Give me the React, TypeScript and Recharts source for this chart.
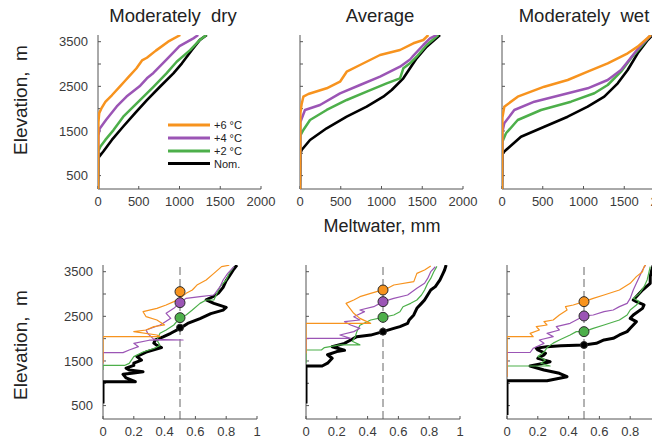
import React from "react";
import { ScatterChart, Scatter, XAxis, YAxis, ReferenceLine } from "recharts";

type Pt = [number, number]; // [x value, elevation m]

const FONT = "'Liberation Sans', Arial, sans-serif";
const ORANGE = "#f7931e";
const PURPLE = "#9b55b5";
const GREEN = "#4daf4a";
const BLACK = "#000000";

const TITLES = ["Moderately  dry", "Average", "Moderately  wet"];
const LEGEND_LABELS = ["+6 °C", "+4 °C", "+2 °C", "Nom."];
const LEGEND_COLORS = [ORANGE, PURPLE, GREEN, BLACK];

const ELEV_TICKS = [500, 1000, 1500, 2000, 2500, 3000, 3500];
const MELT_TICKS = [0, 500, 1000, 1500, 2000];
const FRAC_TICKS = [0, 0.2, 0.4, 0.6, 0.8, 1];

// top row: meltwater (mm) vs elevation
const dry6: Pt[] = [[0, 200], [5, 1700], [15, 1900], [40, 2000], [90, 2150], [170, 2300], [270, 2500], [330, 2620], [370, 2700], [470, 2900], [540, 3080], [600, 3140], [710, 3300], [860, 3500], [1010, 3650]];
const dry4: Pt[] = [[0, 200], [5, 1400], [20, 1550], [100, 1750], [230, 2050], [350, 2270], [510, 2500], [600, 2680], [680, 2800], [840, 3100], [1000, 3400], [1170, 3575], [1230, 3650]];
const dry2: Pt[] = [[0, 200], [5, 1050], [30, 1150], [90, 1300], [190, 1520], [310, 1820], [475, 2120], [680, 2490], [840, 2790], [965, 3050], [1130, 3310], [1250, 3540], [1330, 3650]];
const dryN: Pt[] = [[0, 200], [5, 900], [65, 1040], [170, 1300], [310, 1600], [455, 1900], [600, 2190], [760, 2490], [925, 2790], [1030, 3015], [1150, 3310], [1250, 3540], [1335, 3650]];

const avg6: Pt[] = [[0, 200], [5, 1900], [20, 2100], [41, 2268], [102, 2328], [327, 2456], [491, 2604], [573, 2828], [736, 2978], [982, 3202], [1227, 3314], [1391, 3464], [1513, 3538], [1575, 3650]];
const avg4: Pt[] = [[0, 200], [5, 1700], [61, 1970], [245, 2082], [491, 2344], [736, 2530], [982, 2716], [1227, 2940], [1350, 3100], [1380, 3164], [1513, 3426], [1595, 3576], [1677, 3650]];
const avg2: Pt[] = [[0, 200], [5, 1400], [41, 1522], [123, 1746], [327, 1970], [573, 2194], [818, 2380], [1063, 2568], [1227, 2680], [1268, 2904], [1350, 3016], [1431, 3164], [1554, 3426], [1697, 3650]];
const avgN: Pt[] = [[0, 200], [5, 1000], [20, 1074], [123, 1298], [327, 1560], [573, 1820], [818, 2044], [1022, 2268], [1125, 2418], [1268, 2680], [1431, 3128], [1554, 3389], [1718, 3650]];

const wet6: Pt[] = [[0, 200], [5, 1800], [28, 2044], [193, 2268], [519, 2492], [806, 2642], [1051, 2828], [1297, 3016], [1542, 3240], [1665, 3389], [1828, 3650]];
const wet4: Pt[] = [[0, 200], [5, 1480], [28, 1672], [151, 1970], [397, 2156], [724, 2306], [1051, 2456], [1297, 2642], [1460, 2866], [1542, 3052], [1624, 3240], [1727, 3464], [1828, 3650]];
const wet2: Pt[] = [[0, 200], [5, 1260], [49, 1448], [193, 1746], [479, 1970], [847, 2156], [1133, 2344], [1297, 2530], [1460, 2828], [1583, 3128], [1706, 3389], [1828, 3650]];
const wetN: Pt[] = [[0, 200], [5, 1000], [49, 1074], [233, 1372], [519, 1596], [806, 1820], [1051, 2044], [1255, 2268], [1420, 2568], [1542, 2866], [1665, 3240], [1788, 3538], [1850, 3650]];

// bottom row: fraction vs elevation
const dry6f: Pt[] = [[0, 1450], [0, 2045], [0.37, 2045], [0.35, 2082], [0.2, 2157], [0.28, 2194], [0.33, 2270], [0.4, 2306], [0.35, 2418], [0.28, 2492], [0.26, 2604], [0.35, 2679], [0.41, 2754], [0.46, 2830], [0.5, 2903], [0.54, 3015], [0.58, 3090], [0.61, 3200], [0.67, 3314], [0.72, 3463], [0.77, 3613], [0.82, 3645]];
const dry4f: Pt[] = [[0, 1450], [0, 1686], [0.13, 1686], [0.17, 1746], [0.23, 1821], [0.2, 1895], [0.3, 1965], [0.52, 1970], [0.33, 1985], [0.29, 2119], [0.28, 2194], [0.37, 2306], [0.39, 2343], [0.44, 2455], [0.41, 2568], [0.46, 2679], [0.5, 2806], [0.54, 2903], [0.63, 2940], [0.72, 2978], [0.76, 3165], [0.78, 3314], [0.81, 3463], [0.85, 3613]];
const dry2f: Pt[] = [[0, 1300], [0, 1400], [0.14, 1400], [0.17, 1447], [0.2, 1597], [0.26, 1700], [0.33, 1780], [0.37, 1850], [0.35, 1970], [0.37, 2119], [0.41, 2194], [0.46, 2306], [0.5, 2470], [0.54, 2530], [0.58, 2642], [0.63, 2790], [0.67, 2866], [0.72, 2866], [0.74, 3015], [0.76, 3165], [0.8, 3314], [0.82, 3463], [0.85, 3613]];
const dryNf: Pt[] = [[0, 550], [0, 1036], [0.21, 1036], [0.15, 1120], [0.13, 1200], [0.2, 1230], [0.26, 1260], [0.17, 1300], [0.15, 1340], [0.2, 1400], [0.2, 1450], [0.25, 1520], [0.22, 1600], [0.28, 1700], [0.33, 1750], [0.38, 1800], [0.35, 1850], [0.33, 1900], [0.34, 1970], [0.39, 2040], [0.44, 2120], [0.5, 2230], [0.55, 2340], [0.63, 2450], [0.7, 2560], [0.78, 2640], [0.8, 2700], [0.72, 2790], [0.67, 2870], [0.72, 2950], [0.75, 3020], [0.78, 3150], [0.8, 3300], [0.82, 3400], [0.85, 3560], [0.87, 3650]];

const avg6f: Pt[] = [[0, 1670], [0, 2343], [0.42, 2343], [0.35, 2455], [0.31, 2568], [0.26, 2790], [0.31, 2866], [0.35, 2940], [0.42, 3015], [0.53, 3127], [0.57, 3202], [0.7, 3277], [0.72, 3463], [0.77, 3538], [0.81, 3628]];
const avg4f: Pt[] = [[0, 1709], [0, 2007], [0.29, 2007], [0.22, 2082], [0.31, 2157], [0.35, 2231], [0.29, 2306], [0.25, 2380], [0.35, 2418], [0.31, 2492], [0.38, 2605], [0.35, 2642], [0.44, 2716], [0.5, 2829], [0.57, 2903], [0.66, 2978], [0.72, 3127], [0.77, 3240], [0.79, 3350], [0.81, 3500], [0.84, 3610]];
const avg2f: Pt[] = [[0, 1450], [0, 1746], [0.1, 1746], [0.12, 1800], [0.22, 1860], [0.35, 1860], [0.3, 1940], [0.32, 2045], [0.33, 2157], [0.35, 2300], [0.42, 2418], [0.5, 2478], [0.57, 2530], [0.61, 2604], [0.63, 2716], [0.68, 2791], [0.72, 2866], [0.75, 2978], [0.77, 3090], [0.79, 3240], [0.81, 3350], [0.83, 3500], [0.85, 3620]];
const avgNf: Pt[] = [[0, 550], [0, 1387], [0.105, 1387], [0.14, 1450], [0.17, 1560], [0.14, 1640], [0.2, 1710], [0.25, 1740], [0.17, 1820], [0.25, 1895], [0.29, 1970], [0.33, 2045], [0.42, 2080], [0.5, 2157], [0.57, 2231], [0.61, 2270], [0.66, 2343], [0.67, 2418], [0.7, 2530], [0.72, 2680], [0.75, 2790], [0.77, 2866], [0.79, 2980], [0.81, 3090], [0.84, 3165], [0.87, 3315], [0.89, 3463], [0.9, 3538], [0.91, 3650]];

const wet6f: Pt[] = [[0, 1148], [0, 2045], [0.17, 2045], [0.15, 2119], [0.21, 2194], [0.19, 2269], [0.26, 2306], [0.24, 2380], [0.3, 2418], [0.34, 2530], [0.39, 2642], [0.38, 2717], [0.43, 2754], [0.5, 2829], [0.56, 2903], [0.63, 2978], [0.73, 3090], [0.8, 3239], [0.84, 3389], [0.88, 3500], [0.89, 3613], [0.9, 3650]];
const wet4f: Pt[] = [[0, 1148], [0, 1690], [0.15, 1690], [0.17, 1784], [0.24, 1895], [0.21, 1970], [0.3, 2045], [0.26, 2119], [0.34, 2194], [0.32, 2269], [0.41, 2343], [0.45, 2418], [0.5, 2508], [0.56, 2530], [0.63, 2604], [0.69, 2642], [0.73, 2717], [0.78, 2791], [0.8, 2903], [0.82, 3090], [0.84, 3239], [0.86, 3389], [0.88, 3538], [0.9, 3650]];
const wet2f: Pt[] = [[0, 1148], [0, 1387], [0.28, 1387], [0.22, 1450], [0.25, 1520], [0.2, 1600], [0.24, 1700], [0.26, 1800], [0.3, 1900], [0.34, 1970], [0.41, 2082], [0.45, 2157], [0.5, 2157], [0.56, 2231], [0.63, 2306], [0.73, 2418], [0.78, 2530], [0.8, 2642], [0.84, 2754], [0.86, 2829], [0.82, 2903], [0.86, 3015], [0.89, 3165], [0.91, 3315], [0.92, 3463], [0.93, 3613]];
const wetNf: Pt[] = [[0, 290], [0, 1059], [0.26, 1059], [0.39, 1148], [0.34, 1223], [0.24, 1298], [0.15, 1387], [0.24, 1447], [0.28, 1484], [0.2, 1559], [0.24, 1634], [0.25, 1671], [0.2, 1746], [0.19, 1784], [0.26, 1821], [0.35, 1840], [0.5, 1858], [0.58, 1895], [0.63, 1970], [0.69, 2007], [0.73, 2082], [0.78, 2157], [0.8, 2231], [0.82, 2306], [0.84, 2380], [0.8, 2455], [0.82, 2530], [0.88, 2679], [0.89, 2754], [0.84, 2829], [0.82, 2866], [0.88, 3090], [0.93, 3239], [0.93, 3389], [0.94, 3538], [0.95, 3650]];

// elevation where each scenario crosses fraction 0.5 (orange, purple, green, black)
const dryDots = [3053, 2806, 2470, 2246];
const avgDots = [3090, 2829, 2478, 2157];
const wetDots = [2829, 2508, 2157, 1858];

const toPts = (a: Pt[]) => a.map(([x, y]) => ({ x, y }));
const noDot = () => <g />;

const AX = "#555";
const tickStyle = { fontSize: 13, fill: "#3a3a3a", fontFamily: FONT };

interface Line { pts: Pt[]; color: string; width: number }

function Panel(props: {
  left: number; top: number; w: number; h: number;
  xMax: number; xTicks: number[]; showY: boolean;
  lines: Line[]; dots?: number[]; fmtX: (v: number) => string;
}) {
  const { left, top, w, h, xMax, xTicks, showY, lines, dots, fmtX } = props;
  const YW = 45;
  const RM = 22;
  return (
    <div style={{ position: "absolute", left: left - YW, top: top - 10 }}>
      <ScatterChart width={YW + w + RM} height={10 + h + 25} margin={{ top: 10, right: RM, bottom: 0, left: 0 }}>
        <XAxis xAxisId="b" type="number" dataKey="x" domain={[0, xMax]} ticks={xTicks} interval={0}
          height={25} tickSize={-3} tickMargin={11} tickFormatter={fmtX} allowDataOverflow
          axisLine={{ stroke: AX }} tickLine={{ stroke: AX }} tick={tickStyle} />
        <XAxis xAxisId="t" orientation="top" type="number" dataKey="x" domain={[0, xMax]} ticks={xTicks} interval={0}
          height={0} tickSize={-3} tick={false} allowDataOverflow
          axisLine={{ stroke: AX }} tickLine={{ stroke: AX }} />
        <YAxis yAxisId="l" type="number" dataKey="y" domain={[200, 3650]} ticks={ELEV_TICKS} interval={0}
          width={YW} tickSize={-3} tickMargin={13} allowDataOverflow
          tickFormatter={(v: number) => (showY && v % 1000 === 500 ? String(v) : "")}
          axisLine={{ stroke: AX }} tickLine={{ stroke: AX }} tick={tickStyle} />
        <YAxis yAxisId="r" orientation="right" type="number" dataKey="y" domain={[200, 3650]} ticks={ELEV_TICKS} interval={0}
          width={0} tickSize={-3} tick={false} allowDataOverflow
          axisLine={{ stroke: AX }} tickLine={{ stroke: AX }} />
        {dots && (
          <ReferenceLine xAxisId="b" yAxisId="l" x={0.5} stroke="#666" strokeWidth={1} strokeDasharray="8 4" />
        )}
        {lines.map((s, i) => (
          <Scatter key={i} xAxisId="b" yAxisId="l" data={toPts(s.pts)} shape={noDot}
            line={{ stroke: s.color, strokeWidth: s.width, strokeLinejoin: "round" }}
            lineJointType="linear" isAnimationActive={false} />
        ))}
        {dots && dots.map((e, i) => (
          <Scatter key={"d" + i} xAxisId="b" yAxisId="l" data={[{ x: 0.5, y: e }]} isAnimationActive={false}
            shape={(p: any) => (
              <circle cx={p.cx} cy={p.cy} r={i === 3 ? 3.5 : 5} fill={LEGEND_COLORS[i]} stroke="#2b2b2b" strokeWidth={1} />
            )} />
        ))}
      </ScatterChart>
    </div>
  );
}

const fmtMelt = (v: number) => String(v);
const fmtFrac = (v: number) => String(v);

const topLines = (a: Pt[], b: Pt[], c: Pt[], d: Pt[]): Line[] => [
  { pts: d, color: BLACK, width: 2.6 },
  { pts: c, color: GREEN, width: 2.5 },
  { pts: b, color: PURPLE, width: 2.5 },
  { pts: a, color: ORANGE, width: 2.5 },
];
const botLines = (a: Pt[], b: Pt[], c: Pt[], d: Pt[]): Line[] => [
  { pts: d, color: BLACK, width: 3 },
  { pts: c, color: GREEN, width: 1.2 },
  { pts: b, color: PURPLE, width: 1.2 },
  { pts: a, color: ORANGE, width: 1.2 },
];

export default function App() {
  const topX = [98, 300, 501.5];
  const botX = [103, 305.5, 507];
  return (
    <div style={{ position: "absolute", left: 0, top: 0, width: 652, height: 448, overflow: "hidden", background: "#fff" }}>
      <Panel left={topX[0]} top={35} w={163} h={154} xMax={2000} xTicks={MELT_TICKS} showY fmtX={fmtMelt} lines={topLines(dry6, dry4, dry2, dryN)} />
      <Panel left={topX[1]} top={35} w={163} h={154} xMax={2000} xTicks={MELT_TICKS} showY={false} fmtX={fmtMelt} lines={topLines(avg6, avg4, avg2, avgN)} />
      <Panel left={topX[2]} top={35} w={163} h={154} xMax={2000} xTicks={MELT_TICKS} showY={false} fmtX={fmtMelt} lines={topLines(wet6, wet4, wet2, wetN)} />
      <Panel left={botX[0]} top={265} w={154} h={154} xMax={1} xTicks={FRAC_TICKS} showY fmtX={fmtFrac} lines={botLines(dry6f, dry4f, dry2f, dryNf)} dots={dryDots} />
      <Panel left={botX[1]} top={265} w={154} h={154} xMax={1} xTicks={FRAC_TICKS} showY={false} fmtX={fmtFrac} lines={botLines(avg6f, avg4f, avg2f, avgNf)} dots={avgDots} />
      <Panel left={botX[2]} top={265} w={154} h={154} xMax={1} xTicks={FRAC_TICKS} showY={false} fmtX={fmtFrac} lines={botLines(wet6f, wet4f, wet2f, wetNf)} dots={wetDots} />
      <svg width={652} height={448} style={{ position: "absolute", left: 0, top: 0, pointerEvents: "none" }} fontFamily={FONT}>
        <text x={173} y={21.5} fontSize={18.5} textAnchor="middle" fill="#222" style={{ whiteSpace: "pre" }}>{TITLES[0]}</text>
        <text x={380} y={21.5} fontSize={18.5} textAnchor="middle" fill="#222">{TITLES[1]}</text>
        <text x={584} y={21.5} fontSize={18.5} textAnchor="middle" fill="#222" style={{ whiteSpace: "pre" }}>{TITLES[2]}</text>
        <text x={382} y={232} fontSize={18} textAnchor="middle" fill="#222">Meltwater, mm</text>
        <text transform="translate(27,100) rotate(-90)" fontSize={19} textAnchor="middle" fill="#222" style={{ whiteSpace: "pre" }}>Elevation,  m</text>
        <text transform="translate(27,345) rotate(-90)" fontSize={19} textAnchor="middle" fill="#222" style={{ whiteSpace: "pre" }}>Elevation,  m</text>
        {LEGEND_LABELS.map((lab, i) => {
          const y = [125, 138, 151, 163.5][i];
          return (
            <g key={lab}>
              <line x1={168} x2={210} y1={y} y2={y} stroke={LEGEND_COLORS[i]} strokeWidth={3} />
              <text x={214} y={y + 4} fontSize={11} fill="#222">{lab}</text>
            </g>
          );
        })}
      </svg>
    </div>
  );
}
